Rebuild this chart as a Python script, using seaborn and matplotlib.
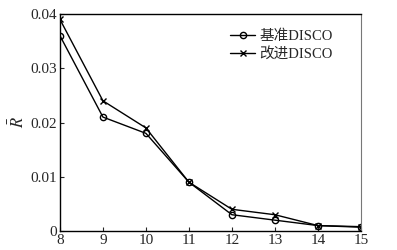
import matplotlib
matplotlib.use("Agg")
import matplotlib.pyplot as plt
import seaborn as sns
import pandas as pd

x_vals = [8, 9, 10, 11, 12, 13, 14, 15]
base_disco = [0.036, 0.021, 0.018, 0.009, 0.003, 0.002, 0.001, 0.0007]
improved_disco = [0.039, 0.024, 0.019, 0.009, 0.004, 0.003, 0.001, 0.0008]
series_names = ["基准DISCO", "改进DISCO"]
y_ticks = [0, 0.01, 0.02, 0.03, 0.04]
y_tick_labels = ["0", "0.01", "0.02", "0.03", "0.04"]

sns.set_style("ticks")
plt.rcParams['font.family'] = ['Liberation Serif', 'Noto Sans CJK SC', 'DejaVu Sans']
plt.rcParams['mathtext.fontset'] = 'stix'

df = pd.DataFrame({
    "x": x_vals * 2,
    "y": base_disco + improved_disco,
    "s": [series_names[0]] * len(x_vals) + [series_names[1]] * len(x_vals),
})

fig = plt.figure(figsize=(3.97, 2.5), dpi=100)
ax = fig.add_axes([0.151, 0.076, 0.758, 0.868])

sns.lineplot(data=df, x="x", y="y", hue="s", style="s",
             palette=["black", "black"], markers=["o", "X"], dashes=False,
             linewidth=1.0, markersize=5, ax=ax, legend=False)

lines = ax.get_lines()
lines[0].set_marker("o")
lines[0].set_markerfacecolor("none")
lines[0].set_markeredgecolor("black")
lines[0].set_markeredgewidth(1.0)
lines[0].set_markersize(4.5)
lines[1].set_marker("x")
lines[1].set_markeredgecolor("black")
lines[1].set_markeredgewidth(1.0)
lines[1].set_markersize(4.5)

ax.legend(lines[:2], series_names, loc="upper right", frameon=False,
          fontsize=10.5, handlelength=1.7, handletextpad=0.3,
          labelspacing=0.3, bbox_to_anchor=(0.95, 0.99))

ax.set_xlim(8, 15)
ax.set_ylim(0, 0.04)
ax.set_xticks(x_vals)
ax.set_xticklabels([str(v) for v in x_vals])
ax.set_yticks(y_ticks)
ax.set_yticklabels(y_tick_labels)
ax.tick_params(direction="in", labelsize=11, length=3, width=0.8, pad=2)
ax.set_xlabel("")
ax.set_ylabel(r"$\bar{R}$", fontsize=12, labelpad=2)
for sp in ["left", "bottom", "top"]:
    ax.spines[sp].set_color("black")
    ax.spines[sp].set_linewidth(1.0)
ax.spines["right"].set_color("#777777")
ax.spines["right"].set_linewidth(0.8)

fig.savefig("out.png", dpi=100)
